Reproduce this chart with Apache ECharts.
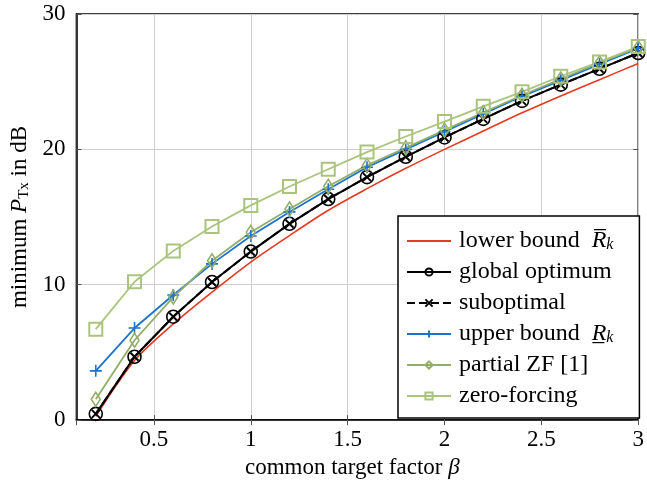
<!DOCTYPE html>
<html>
<head>
<meta charset="utf-8">
<script src="https://cdn.jsdelivr.net/npm/echarts@6/dist/echarts.min.js"></script>
<style>
  html, body { margin: 0; padding: 0; background: #fff; }
  #chart { width: 647px; height: 484px; }
</style>
</head>
<body>
<div id="chart"></div>
<script>
const betaValues = [0.2, 0.4, 0.6, 0.8, 1.0, 1.2, 1.4, 1.6, 1.8, 2.0, 2.2, 2.4, 2.6, 2.8, 3.0];
const lowerBound = [0.27, 4.4, 7.1, 9.45, 11.67, 13.63, 15.5, 17.1, 18.6, 20.0, 21.35, 22.7, 23.95, 25.15, 26.35];
const globalOptimum = [0.46, 4.68, 7.64, 10.2, 12.45, 14.5, 16.33, 17.95, 19.45, 20.88, 22.25, 23.58, 24.78, 25.95, 27.12];
const suboptimal = [0.46, 4.68, 7.64, 10.2, 12.45, 14.5, 16.33, 17.95, 19.45, 20.88, 22.25, 23.58, 24.78, 25.95, 27.12];
const upperBound = [3.64, 6.8, 9.24, 11.54, 13.6, 15.38, 17.05, 18.68, 20.0, 21.3, 22.62, 23.92, 25.1, 26.3, 27.45];
const partialZF = [1.54, 5.9, 9.09, 11.77, 13.87, 15.6, 17.27, 18.82, 20.12, 21.42, 22.72, 24.0, 25.2, 26.4, 27.52];
const zeroForcing = [6.72, 10.22, 12.5, 14.3, 15.86, 17.26, 18.53, 19.8, 20.95, 22.05, 23.18, 24.25, 25.4, 26.46, 27.6];

const serif = 'Liberation Serif';
const fs = 23;
const legendFs = 24;
const pairs = ys => betaValues.map((x, i) => [x, ys[i]]);

const chart = echarts.init(document.getElementById('chart'), null, { renderer: 'canvas' });

const baseSeries = (name, data, color, extra) => Object.assign({
  name: name,
  type: 'line',
  data: pairs(data),
  lineStyle: { color: color, width: 1.8 },
  itemStyle: { color: 'transparent', borderColor: color, borderWidth: 1.6 },
  emphasis: { disabled: true },
  xAxisIndex: 0, yAxisIndex: 0
}, extra);

const legendNames = {
  'lower bound': 'lower bound  {i|R\u0305}{sub|k}',
  'global optimum': 'global optimum',
  'suboptimal': 'suboptimal',
  'upper bound': 'upper bound  {i|R\u0332}{sub|k}',
  'partial ZF [1]': 'partial ZF [1]',
  'zero-forcing': 'zero-forcing'
};

const tickStyle = { show: true, inside: true, length: 5, lineStyle: { color: '#555', width: 1 } };
const gridLine = { show: true, lineStyle: { color: '#cfcfcf', width: 1 } };

chart.setOption({
  animation: false,
  backgroundColor: '#fff',
  grid: { left: 74, right: 5, top: 14, bottom: 62, show: true, borderColor: '#000', borderWidth: 1.5, backgroundColor: 'transparent' },
  xAxis: [{
    type: 'value', min: 0.1, max: 3,
    axisLine: { show: true, lineStyle: { color: '#000', width: 1.5 } },
    axisTick: tickStyle,
    splitLine: gridLine,
    axisLabel: { color: '#000', fontFamily: serif, fontSize: fs, margin: 8, showMinLabel: false },
    name: 'common target factor {i|β}',
    nameLocation: 'middle', nameGap: 34,
    nameTextStyle: { color: '#000', fontFamily: serif, fontSize: fs, padding: [0, 10, 0, 0],
      rich: { i: { fontStyle: 'italic', fontFamily: serif, fontSize: fs } } }
  }, {
    type: 'value', min: 0.1, max: 3, position: 'top',
    axisLine: { show: false }, axisTick: tickStyle, axisLabel: { show: false }, splitLine: { show: false }
  }],
  yAxis: [{
    type: 'value', min: 0, max: 30, interval: 10,
    axisLine: { show: true, lineStyle: { color: '#000', width: 1.5 } },
    axisTick: tickStyle,
    splitLine: gridLine,
    axisLabel: { color: '#000', fontFamily: serif, fontSize: fs, margin: 11 },
    name: 'minimum {i|P}{sub|Tx} in dB',
    nameLocation: 'middle', nameGap: 42,
    nameTextStyle: { color: '#000', fontFamily: serif, fontSize: fs,
      rich: {
        i: { fontStyle: 'italic', fontFamily: serif, fontSize: fs },
        sub: { fontFamily: serif, fontSize: 15, verticalAlign: 'bottom', padding: [9, 0, 0, 0] }
      } }
  }, {
    type: 'value', min: 0, max: 30, interval: 10, position: 'right',
    axisLine: { show: false }, axisTick: tickStyle, axisLabel: { show: false }, splitLine: { show: false }
  }],
  legend: {
    orient: 'vertical', left: 398, top: 216,
    backgroundColor: '#fff', borderColor: '#000', borderWidth: 1.5, borderRadius: 0,
    padding: [13, 26, 10, 8],
    itemWidth: 44, itemHeight: 9, itemGap: 7,
    selectedMode: false,
    formatter: name => legendNames[name],
    textStyle: {
      color: '#000', fontFamily: serif, fontSize: legendFs, lineHeight: 24, padding: [0, 0, 0, 3],
      rich: {
        i: { fontStyle: 'italic', fontFamily: serif, fontSize: legendFs, lineHeight: 24 },
        sub: { fontStyle: 'italic', fontFamily: serif, fontSize: 16, verticalAlign: 'bottom', padding: [9, 0, 0, 0] }
      }
    }
  },
  series: [
    baseSeries('lower bound', lowerBound, '#e43a1f', { symbol: 'circle', showSymbol: false, smooth: 0.3,
      lineStyle: { color: '#e43a1f', width: 1.6 }, itemStyle: { color: 'transparent', borderColor: 'transparent', borderWidth: 0 } }),
    baseSeries('global optimum', globalOptimum, '#000', { symbol: 'circle', symbolSize: 13, lineStyle: { color: '#000', width: 2 } }),
    baseSeries('suboptimal', suboptimal, '#000', { symbol: 'path://M0,0L10,10M10,0L0,10', symbolSize: 8,
      lineStyle: { color: '#000', width: 2, type: 'dashed' }, itemStyle: { color: 'transparent', borderColor: '#000', borderWidth: 2 } }),
    baseSeries('upper bound', upperBound, '#1a73d0', { symbol: 'path://M5,0L5,10M0,5L10,5', symbolSize: 12 }),
    baseSeries('partial ZF [1]', partialZF, '#93ad66', { symbol: 'diamond', symbolSize: [9, 14] }),
    baseSeries('zero-forcing', zeroForcing, '#aac47e', { symbol: 'rect', symbolSize: 13, itemStyle: { color: 'transparent', borderColor: '#aac47e', borderWidth: 2 } })
  ]
});
</script>
</body>
</html>
